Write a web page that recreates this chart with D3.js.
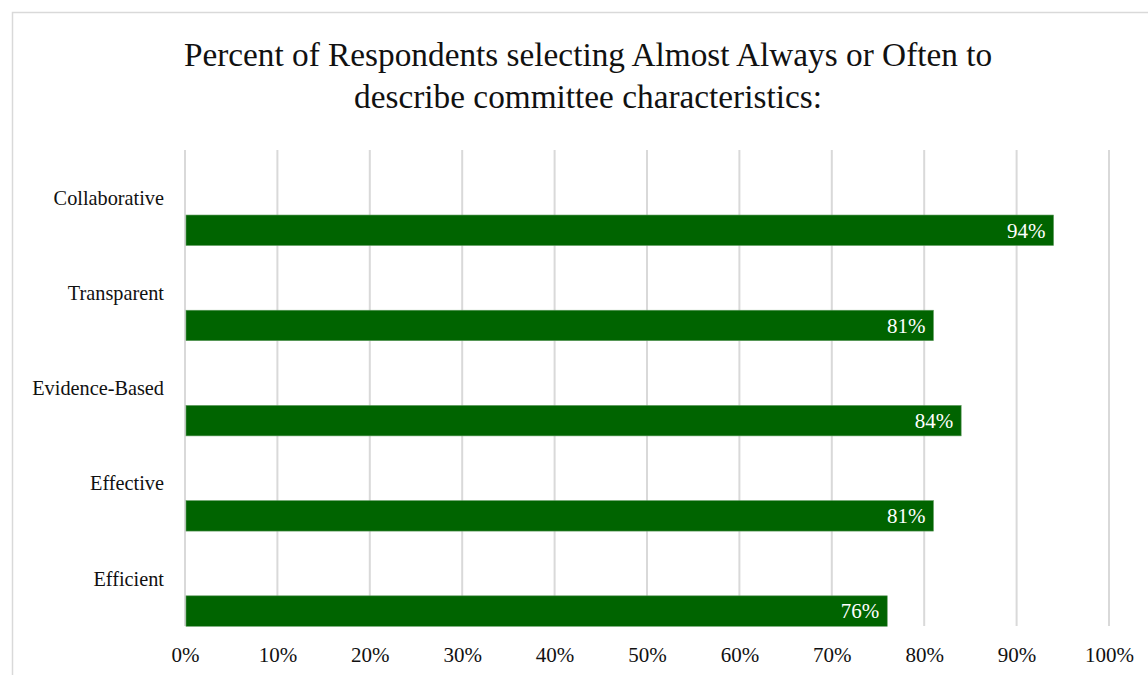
<!DOCTYPE html>
<html><head><meta charset="utf-8">
<script src="https://cdn.jsdelivr.net/npm/d3@7"></script>
<style>body{margin:0;background:#fff;} svg{display:block;}</style>
</head><body>
<svg id="c" width="1148" height="675"></svg>
<script>
const categories = ["Collaborative","Transparent","Evidence-Based","Effective","Efficient"];
const values = [94, 81, 84, 81, 76];
const valueLabels = ["94%","81%","84%","81%","76%"];
const ticks = [0,10,20,30,40,50,60,70,80,90,100];
const titleLines = ["Percent of Respondents selecting Almost Always or Often to","describe committee characteristics:"];

(function(){
const svg = d3.select("#c");
const font = "'Liberation Serif', 'Times New Roman', serif";
svg.append("rect").attr("x",12.5).attr("y",12.5).attr("width",1160).attr("height",700)
  .attr("fill","#fff").attr("stroke","#d9d9d9").attr("stroke-width",1.5);

const pLeft=185, pRight=1109, pTop=150, pBottom=626;
const x = d3.scaleLinear().domain([0,100]).range([pLeft,pRight]);
const y = d3.scaleBand().domain(categories).range([pTop,pBottom]);

svg.selectAll(".grid").data(ticks).join("line")
  .attr("x1",d=>x(d)).attr("x2",d=>x(d)).attr("y1",pTop).attr("y2",pBottom)
  .attr("stroke","#d9d9d9").attr("stroke-width",2);

const bw = y.bandwidth();
svg.selectAll(".bar").data(values).join("rect")
  .attr("x",x(0)+1).attr("y",(d,i)=>y(categories[i])+bw*0.683)
  .attr("width",d=>x(d)-x(0)-1).attr("height",bw*0.32)
  .attr("fill","#006400").attr("stroke","#5e9a5e").attr("stroke-width",0.6);

svg.selectAll(".vl").data(values).join("text")
  .attr("x",d=>x(d)-8).attr("y",(d,i)=>y(categories[i])+bw*0.683+bw*0.16)
  .attr("dy","0.35em").attr("text-anchor","end")
  .attr("font-family",font).attr("font-size",21).attr("fill","#fff")
  .text((d,i)=>valueLabels[i]);

svg.selectAll(".cl").data(categories).join("text")
  .attr("x",164).attr("y",d=>y(d)+bw/2).attr("dy","0.35em").attr("text-anchor","end")
  .attr("font-family",font).attr("font-size",20.3).attr("fill","#111").text(d=>d);

const axis = d3.axisBottom(x).tickValues(ticks).tickFormat(d=>d+"%").tickSize(0).tickPadding(0);
const g = svg.append("g").attr("transform",`translate(0,${pBottom})`).call(axis);
g.select(".domain").remove();
g.selectAll("text").attr("y",29).attr("dy","0.35em").attr("font-family",font).attr("font-size",21).attr("fill","#111");

svg.selectAll(".title").data(titleLines).join("text")
  .attr("x",588).attr("y",(d,i)=>54+i*42).attr("dy","0.35em").attr("text-anchor","middle")
  .attr("font-family",font).attr("font-size",33.3).attr("fill","#111").text(d=>d);
})();
</script>
</body></html>
